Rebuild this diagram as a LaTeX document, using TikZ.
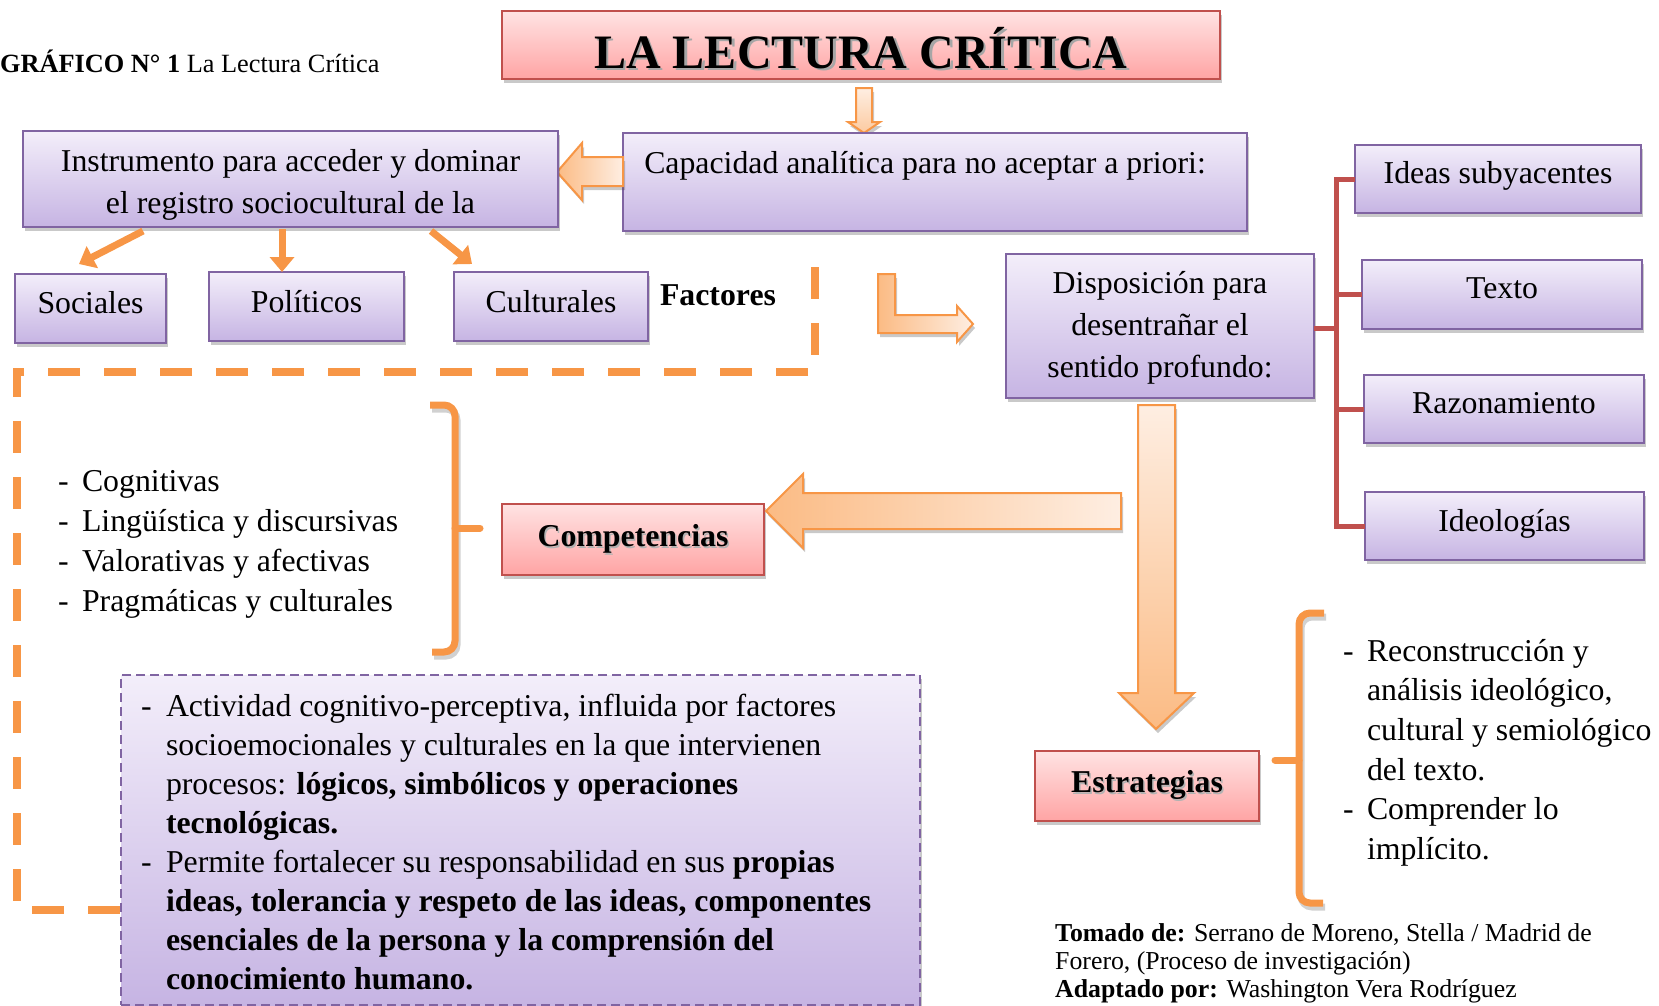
\documentclass[tikz,border=0pt]{standalone}
\usepackage{fontspec}
\setmainfont{Liberation Serif}
\usetikzlibrary{arrows.meta,shadows,calc}
\newcommand\myfs[2]{\fontsize{#1}{#2}\selectfont}
\definecolor{lavT}{HTML}{F3EEFA}
\definecolor{lavB}{HTML}{C6B4E3}
\definecolor{lavE}{HTML}{8064A2}
\definecolor{pinkT}{HTML}{FFE3E3}
\definecolor{pinkB}{HTML}{FFA4A4}
\definecolor{redE}{HTML}{C0504D}
\definecolor{orng}{HTML}{F79646}
\definecolor{arL}{HTML}{FEEEE2}
\definecolor{arD}{HTML}{FBBB84}
\begin{document}
\begin{tikzpicture}[x=1pt,y=-1pt,
  shd/.style={drop shadow={shadow xshift=2pt,shadow yshift=-4pt,opacity=.3,fill=black!70}},
  boxbase/.style={rectangle, inner sep=0pt, outer sep=0pt},
  lav/.style={boxbase, draw=lavE, line width=2.2pt, top color=lavT, bottom color=lavB, shd},
  pnk/.style={boxbase, draw=redE, line width=2pt, top color=pinkT, bottom color=pinkB, shd},
  txt/.style={inner sep=0pt, outer sep=0pt, font=\myfs{31.8}{40}},
  btxt/.style={inner sep=0pt, outer sep=0pt, font=\myfs{31.8}{40}\bfseries},
  barrow/.style={draw=orng, line width=2pt, line join=miter, shd},
  farrow/.style={draw=orng, line width=7pt, -{Triangle[width=24pt,length=15pt]}},
  brc/.style={draw=orng, line width=7pt, rounded corners=11pt},
  brcs/.style={draw=black, opacity=.18, line width=7pt, rounded corners=11pt},
  redl/.style={draw=redE, line width=5pt},
  odash/.style={draw=orng, line width=8pt, dash pattern=on 32pt off 24pt},
]
\useasboundingbox (0,0) rectangle (1659,1005);
\clip (0,0) rectangle (1659,1005);

% caption
\node[inner sep=0pt, anchor=base west, font=\myfs{26.3}{30}] (cap0) at (0,72) {\textbf{GRÁFICO N° 1} La Lectura Crítica};

% title
\node[pnk, minimum width=718pt, minimum height=68pt] (title) at (861,45) {};
\node[inner sep=0pt, anchor=base, font=\myfs{48}{50}\bfseries, text=black!35] (titlesh) at (863.5,70.5) {LA LECTURA CRÍTICA};
\node[inner sep=0pt, anchor=base, font=\myfs{48}{50}\bfseries] (titlet) at (861,68) {LA LECTURA CRÍTICA};

% small down arrow title -> capacidad
\draw[barrow, top color=arL, bottom color=arD!70!arL] (856,88) -- (872,88) -- (872,122) -- (880,122) -- (864,133) -- (848,122) -- (856,122) -- cycle;

% capacidad
\node[lav, minimum width=624pt, minimum height=98pt] (capb) at (935,182) {};
\node[txt, anchor=base] (capt) at (925,173) {Capacidad analítica para no aceptar a priori:};

% left arrow capacidad -> instrumento
\draw[barrow, left color=arD, right color=arL] (623,157) -- (582,157) -- (582,143) -- (557,172) -- (582,200) -- (582,186) -- (623,186) -- cycle;

% instrumento
\node[lav, minimum width=535pt, minimum height=96pt] (inst) at (290.5,179) {};
\node[txt, anchor=base] (inst1) at (290.5,171) {Instrumento para acceder y dominar};
\node[txt, anchor=base] (inst2) at (290.5,213) {el registro sociocultural de la};

% factor boxes
\node[lav, minimum width=151pt, minimum height=69pt] (soc) at (90.5,308.5) {};
\node[txt, anchor=base] (soct) at (90.5,313) {Sociales};
\node[lav, minimum width=195pt, minimum height=69pt] (pol) at (306.5,306.5) {};
\node[txt, anchor=base] (polt) at (306.5,312) {Políticos};
\node[lav, minimum width=194pt, minimum height=69pt] (cul) at (551,306.5) {};
\node[txt, anchor=base] (cult) at (551,312) {Culturales};
\node[btxt, anchor=base] (fact) at (718,305) {Factores};

% arrows from instrumento
\coordinate (a1s) at (143,231); \coordinate (a1e) at (79,264);
\coordinate (a2s) at (282,229); \coordinate (a2e) at (282,272);
\coordinate (a3s) at (431,231); \coordinate (a3e) at (472,264);
\draw[farrow] (a1s) -- (a1e);
\draw[farrow] (a2s) -- (a2e);
\draw[farrow] (a3s) -- (a3e);

% big orange dashed frame
\coordinate (d0) at (815,267);
\coordinate (d1) at (815,372);
\coordinate (d2) at (17,372);
\coordinate (d3) at (17,910);
\coordinate (d4) at (121,910);
\draw[odash, draw=black, opacity=.15, shift={(2,4)}] (d0) -- (d1) -- (d2) -- (d3) -- (d4);
\draw[odash] (d0) -- (d1) -- (d2) -- (d3) -- (d4);

% competencias list
\foreach \t [count=\i] in {Cognitivas, Lingüística y discursivas, Valorativas y afectivas, Pragmáticas y culturales}{
  \node[txt, anchor=base west] (cd\i) at (58,{491+40*(\i-1)}) {-};
  \node[txt, anchor=base west] (cl\i) at (82,{491+40*(\i-1)}) {\t};
}

% right brace
\draw[brcs, shift={(2,4)}] (430,405) -- (455,405) -- (455,652) -- (432,652);
\draw[brc] (430,405) -- (455,405) -- (455,652) -- (432,652);
\draw[brc, line cap=round] (455,528) -- (480,528);

% competencias
\node[pnk, minimum width=262pt, minimum height=71pt] (comp) at (633,539.5) {};
\node[inner sep=0pt, anchor=base, font=\myfs{31.8}{40}\bfseries, text=black!30] (compsh) at (634.5,548) {Competencias};
\node[btxt, anchor=base] (compt) at (633,546) {Competencias};

% disposicion
\node[lav, minimum width=308pt, minimum height=144pt] (disp) at (1160,326) {};
\node[txt, anchor=base] (disp1) at (1160,293) {Disposición para};
\node[txt, anchor=base] (disp2) at (1160,335) {desentrañar el};
\node[txt, anchor=base] (disp3) at (1160,377) {sentido profundo:};

% bent arrow
\draw[barrow, left color=arD, right color=arL] (878,274) -- (895,274) -- (895,315) -- (957,315) -- (957,306) -- (973,324) -- (957,342) -- (957,333) -- (878,333) -- cycle;

% big left arrow -> competencias
\draw[barrow, left color=arD, right color=arL] (1121,493) -- (803,493) -- (803,474) -- (766,511) -- (803,548) -- (803,529) -- (1121,529) -- cycle;

% big down arrow -> estrategias
\draw[barrow, top color=arL, bottom color=arD] (1138,405) -- (1175,405) -- (1175,693) -- (1194,693) -- (1156,729) -- (1119,693) -- (1138,693) -- cycle;

% right boxes
\node[lav, minimum width=286pt, minimum height=68pt] (ideas) at (1498,179) {};
\node[txt, anchor=base] (ideast) at (1498,183) {Ideas subyacentes};
\node[lav, minimum width=280pt, minimum height=69pt] (texto) at (1502,294.5) {};
\node[txt, anchor=base] (textot) at (1502,298) {Texto};
\node[lav, minimum width=280pt, minimum height=68pt] (razon) at (1504,409) {};
\node[txt, anchor=base] (razont) at (1504,413) {Razonamiento};
\node[lav, minimum width=279pt, minimum height=68pt] (ideol) at (1504.5,526) {};
\node[txt, anchor=base] (ideolt) at (1504.5,531) {Ideologías};

% red tree
\coordinate (trunk) at (1336,328);
\draw[redl] (disp.east |- trunk) -- (trunk);
\draw[redl] (ideas.west) -- (ideas.west -| trunk) -- (ideol.west -| trunk) -- (ideol.west);
\draw[redl] (texto.west) -- (texto.west -| trunk);
\draw[redl] (razon.west) -- (razon.west -| trunk);

% estrategias
\node[pnk, minimum width=224pt, minimum height=70pt] (estr) at (1147,786) {};
\node[inner sep=0pt, anchor=base, font=\myfs{31.8}{40}\bfseries, text=black!30] (estrsh) at (1148.5,794) {Estrategias};
\node[btxt, anchor=base] (estrt) at (1147,792) {Estrategias};

% left brace
\draw[brcs, shift={(2,4)}] (1324,613) -- (1299,613) -- (1299,903) -- (1323,903);
\draw[brc] (1324,613) -- (1299,613) -- (1299,903) -- (1323,903);
\draw[brc, line cap=round] (1299,760) -- (1275,760);

% strategies list
\node[txt, anchor=base west] (sd1) at (1343,661) {-};
\node[txt, anchor=base west] (s1) at (1367,661) {Reconstrucción y};
\node[txt, anchor=base west] (s2) at (1367,700.7) {análisis ideológico,};
\node[txt, anchor=base west] (s3) at (1367,740.4) {cultural y semiológico};
\node[txt, anchor=base west] (s4) at (1367,780.1) {del texto.};
\node[txt, anchor=base west] (sd5) at (1343,819.8) {-};
\node[txt, anchor=base west] (s5) at (1367,819.8) {Comprender lo};
\node[txt, anchor=base west] (s6) at (1367,859.5) {implícito.};

% bottom dashed box
\node[boxbase, draw=lavE, line width=1.8pt, dash pattern=on 9pt off 5pt, top color=lavT, bottom color=lavB, shd, minimum width=799pt, minimum height=330pt] (bbox) at (520.5,840) {};
\node[txt, anchor=base west] (bd1) at (141,716) {-};
\node[txt, anchor=base west] (b1) at (166,716) {Actividad cognitivo-perceptiva, influida por factores};
\node[txt, anchor=base west] (b2) at (166,755) {socioemocionales y culturales en la que intervienen};
\node[txt, anchor=base west] (b3) at (166,794) {procesos: \textbf{lógicos, simbólicos y operaciones}};
\node[txt, anchor=base west] (b4) at (166,833) {\textbf{tecnológicas.}};
\node[txt, anchor=base west] (bd5) at (141,872) {-};
\node[txt, anchor=base west] (b5) at (166,872) {Permite fortalecer su responsabilidad en sus \textbf{propias}};
\node[txt, anchor=base west] (b6) at (166,911) {\textbf{ideas, tolerancia y respeto de las ideas, componentes}};
\node[txt, anchor=base west] (b7) at (166,950) {\textbf{esenciales de la persona y la comprensión del}};
\node[txt, anchor=base west] (b8) at (166,989) {\textbf{conocimiento humano.}};

% credits
\node[inner sep=0pt, anchor=base west, font=\myfs{25.8}{29}] (cr1) at (1055,941) {\textbf{Tomado de:} Serrano de Moreno, Stella / Madrid de};
\node[inner sep=0pt, anchor=base west, font=\myfs{25.8}{29}] (cr2) at (1055,969) {Forero, (Proceso de investigación)};
\node[inner sep=0pt, anchor=base west, font=\myfs{25.8}{29}] (cr3) at (1055,997) {\textbf{Adaptado por:} Washington Vera Rodríguez};
\end{tikzpicture}
\end{document}
